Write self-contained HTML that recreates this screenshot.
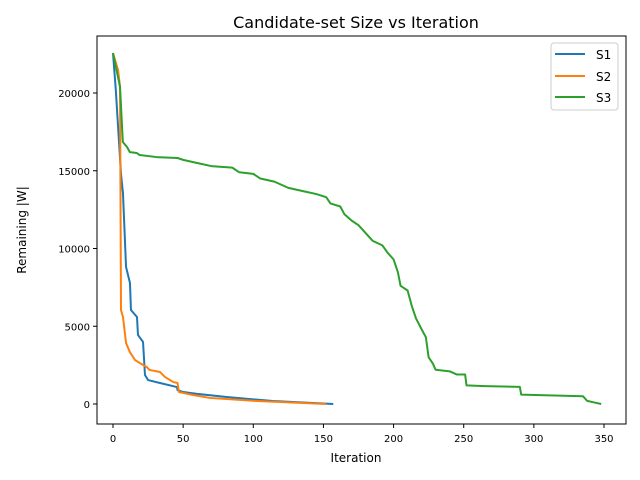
<!DOCTYPE html>
<html><head><meta charset="utf-8"><style>
body{margin:0;background:#fff;}
svg{display:block;font-family:"DejaVu Sans","Liberation Sans",sans-serif;}
</style></head><body>
<svg id="chart" width="640" height="480">
<text x="356" y="28" font-size="16" text-anchor="middle">Candidate-set Size vs Iteration</text>
<g id="plot"></g>
<rect x="97" y="36" width="529" height="388" fill="none" stroke="#000" stroke-width="1"/>
<text x="356" y="462" font-size="12" text-anchor="middle">Iteration</text>
<text x="26" y="230" font-size="12" text-anchor="middle" transform="rotate(-90 26 230)">Remaining |W|</text>
<g>
<rect x="551" y="43" width="67" height="67" rx="3" fill="#fff" fill-opacity="0.8" stroke="#ccc"/>
<line x1="555" y1="54" x2="585" y2="54" stroke="#1f77b4" stroke-width="2"/>
<text x="596" y="59" font-size="12">S1</text>
<line x1="555" y1="76" x2="585" y2="76" stroke="#ff7f0e" stroke-width="2"/>
<text x="596" y="81" font-size="12">S2</text>
<line x1="555" y1="97" x2="585" y2="97" stroke="#2ca02c" stroke-width="2"/>
<text x="596" y="102" font-size="12">S3</text>
</g>
</svg>
<script>
const xTicks=[0,50,100,150,200,250,300,350];
const yTicks=[0,5000,10000,15000,20000];
const s1x=[0,2,5.7,7.1,9.3,12.1,12.8,17.1,17.8,21.4,22.8,25,33.5,45.6,46,50,60,81,100,114,157];
const s1y=[22570,20190,14790,13570,8810,7780,6045,5595,4440,3990,1865,1540,1350,1090,900,770,650,450,300,190,0];
const s2x=[0,3.6,5,5.7,7.1,9.3,12,15.7,19,24,26,33.5,37,43,46,47,57,69,103,152];
const s2y=[22570,21480,20400,6045,5600,3920,3340,2830,2640,2380,2190,2060,1740,1410,1350,770,580,390,190,0];
const s3x=[0,5,7,10,12,17,19,31,46,50,60,70,85,90,100,105,115,120,125,135,145,152,155,162,165,170,175,180,185,192,196,200,203,205,210,213,216,220,223,225,228,230,240,245,251,252,265,290,291,335,338,343,348];
const s3y=[22570,20400,16850,16530,16200,16140,16010,15880,15820,15700,15500,15300,15200,14900,14800,14500,14300,14100,13900,13700,13500,13300,12900,12700,12200,11800,11500,11000,10500,10200,9700,9300,8500,7600,7300,6300,5500,4800,4300,3000,2600,2200,2100,1900,1900,1200,1150,1100,600,500,200,100,0];
const X=v=>113+v*(604-113)/350;
const Y=v=>404-v*(404-93)/20000;
const NS='http://www.w3.org/2000/svg';
const svg=document.getElementById('chart');
const plot=document.getElementById('plot');
function mk(tag,attrs,parent){const e=document.createElementNS(NS,tag);for(const k in attrs)e.setAttribute(k,attrs[k]);(parent||svg).appendChild(e);return e;}
xTicks.forEach(t=>{
 const l=mk('line',{x1:X(t),x2:X(t),y1:424,y2:428,stroke:'#000'});
 
 
 const tx=mk('text',{x:X(t),y:442,'font-size':10,'text-anchor':'middle'});
 tx.textContent=t;
 
 
});
yTicks.forEach(t=>{
 const l=mk('line',{x1:93,x2:97,y1:Y(t),y2:Y(t),stroke:'#000'});
 
 
 const tx=mk('text',{x:90,y:Y(t)+4,'font-size':10,'text-anchor':'end'});
 tx.textContent=t;
 
 
});
[[s1x,s1y,'#1f77b4','series-s1'],[s2x,s2y,'#ff7f0e','series-s2'],[s3x,s3y,'#2ca02c','series-s3']].forEach(([xs,ys,c,n])=>{
 const p=mk('polyline',{points:xs.map((x,i)=>X(x)+','+Y(ys[i])).join(' '),fill:'none',stroke:c,'stroke-width':2,'stroke-linejoin':'round'},plot);
 
 
});
</script>
</body></html>
